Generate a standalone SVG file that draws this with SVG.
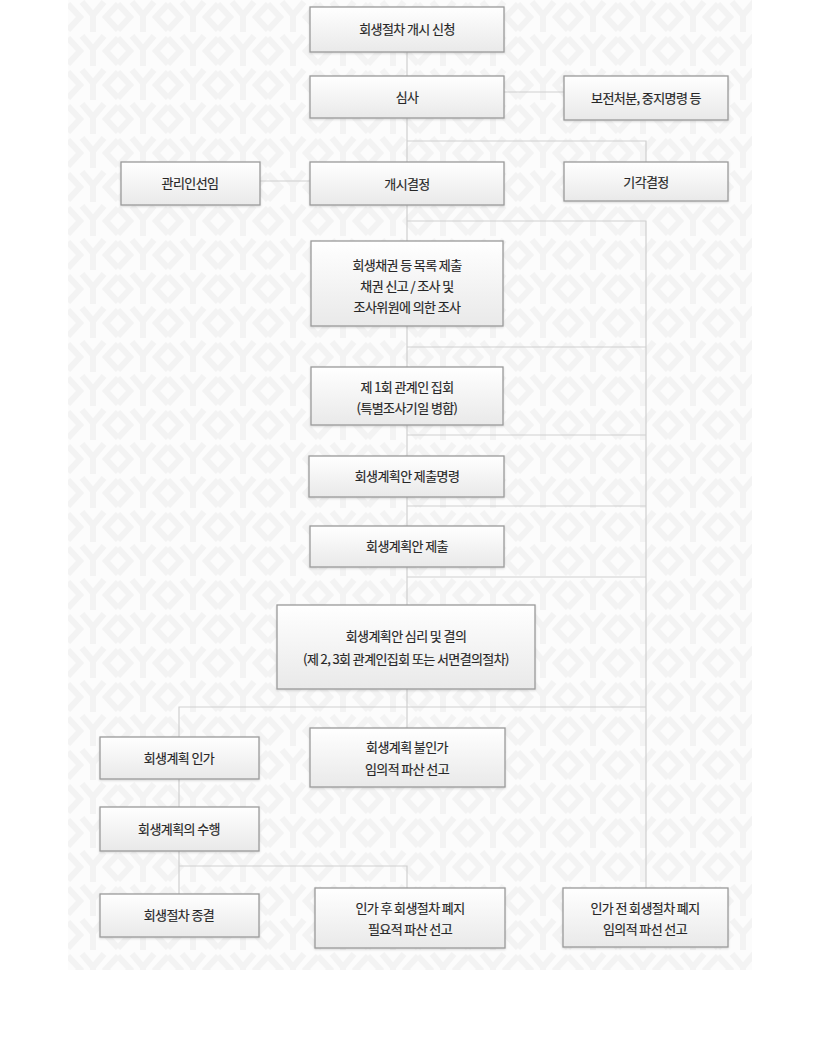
<svg xmlns="http://www.w3.org/2000/svg" width="830" height="1054" viewBox="0 0 830 1054">
<defs>
<linearGradient id="g" x1="0" y1="0" x2="0" y2="1">
<stop offset="0" stop-color="#ffffff"/>
<stop offset="1" stop-color="#e9e9e9"/>
</linearGradient>
<pattern id="bgp" x="68" y="0" width="50" height="34" patternUnits="userSpaceOnUse">
<rect width="50" height="34" fill="#fcfcfc"/>
<path d="M0 4 L12 17 L0 30 M50 4 L38 17 L50 30 M14 2 L25 15 L36 2 M25 15 L25 32" fill="none" stroke="#f3f3f3" stroke-width="6"/>
</pattern>
<filter id="sh" x="-5%" y="-5%" width="110%" height="120%">
<feDropShadow dx="0" dy="1" stdDeviation="0.8" flood-color="#000" flood-opacity="0.15"/>
</filter>
</defs>
<style>
.box{fill:url(#g);stroke:#9a9a9a;stroke-width:1.3;filter:url(#sh)}
.t{font-family:"Noto Sans CJK KR","Noto Sans",sans-serif;font-size:13px;fill:#262626;text-anchor:middle;letter-spacing:-0.6px;stroke:#262626;stroke-width:0.15}
.c{fill:none;stroke:#cfcfcf;stroke-width:1.2}
</style>
<rect x="0" y="0" width="830" height="1054" fill="#ffffff"/>
<rect x="68" y="0" width="684" height="970" fill="url(#bgp)"/>

<g id="connectors">
<path class="c" d="M407 52 V76"/>
<path class="c" d="M504 92 H564"/>
<path class="c" d="M407 118 V162"/>
<path class="c" d="M407 141 H646 V162"/>
<path class="c" d="M260 181 H310"/>
<path class="c" d="M407 205 V241"/>
<path class="c" d="M407 221 H646 V888"/>
<path class="c" d="M407 326 V367"/>
<path class="c" d="M407 347 H646"/>
<path class="c" d="M407 425 V456"/>
<path class="c" d="M407 435 H646"/>
<path class="c" d="M407 497 V526"/>
<path class="c" d="M407 506 H646"/>
<path class="c" d="M407 567 V605"/>
<path class="c" d="M407 577 H646"/>
<path class="c" d="M407 689 V728"/>
<path class="c" d="M179 737 V707 H646"/>
<path class="c" d="M179 779 V807"/>
<path class="c" d="M179 851 V894"/>
<path class="c" d="M179 866 H407 V888"/>
</g>

<g id="n1"><rect class="box" x="310" y="7" width="194" height="45"/><text class="t" x="407" y="34">회생절차 개시 신청</text></g>
<g id="n2"><rect class="box" x="310" y="76" width="194" height="42"/><text class="t" x="407" y="102">심사</text></g>
<g id="n3"><rect class="box" x="564" y="76" width="164" height="44"/><text class="t" x="646" y="103">보전처분, 중지명령 등</text></g>
<g id="n4"><rect class="box" x="121" y="162" width="139" height="43"/><text class="t" x="190" y="188">관리인선임</text></g>
<g id="n5"><rect class="box" x="310" y="162" width="194" height="43"/><text class="t" x="407" y="189">개시결정</text></g>
<g id="n6"><rect class="box" x="564" y="162" width="164" height="39"/><text class="t" x="646" y="187">기각결정</text></g>
<g id="n7"><rect class="box" x="311" y="241" width="192" height="85"/>
<text class="t" x="407" y="270">회생채권 등 목록 제출</text>
<text class="t" x="407" y="291">채권 신고 / 조사 및</text>
<text class="t" x="407" y="312">조사위원에 의한 조사</text></g>
<g id="n8"><rect class="box" x="311" y="367" width="192" height="58"/>
<text class="t" x="407" y="392">제 1회 관계인 집회</text>
<text class="t" x="407" y="413">(특별조사기일 병합)</text></g>
<g id="n9"><rect class="box" x="309" y="456" width="195" height="41"/><text class="t" x="407" y="481">회생계획안 제출명령</text></g>
<g id="n10"><rect class="box" x="310" y="526" width="194" height="41"/><text class="t" x="407" y="551">회생계획안 제출</text></g>
<g id="n11"><rect class="box" x="277" y="605" width="258" height="84"/>
<text class="t" x="406" y="641">회생계획안 심리 및 결의</text>
<text class="t" x="406" y="664">(제 2, 3회 관계인집회 또는 서면결의절차)</text></g>
<g id="n12"><rect class="box" x="100" y="737" width="159" height="42"/><text class="t" x="179" y="763">회생계획 인가</text></g>
<g id="n13"><rect class="box" x="310" y="728" width="195" height="59"/>
<text class="t" x="407" y="752">회생계획 불인가</text>
<text class="t" x="407" y="774">임의적 파산 선고</text></g>
<g id="n14"><rect class="box" x="100" y="807" width="159" height="44"/><text class="t" x="179" y="834">회생계획의 수행</text></g>
<g id="n15"><rect class="box" x="100" y="894" width="159" height="43"/><text class="t" x="179" y="920">회생절차 종결</text></g>
<g id="n16"><rect class="box" x="315" y="888" width="190" height="60"/>
<text class="t" x="410" y="913">인가 후 회생절차 폐지</text>
<text class="t" x="410" y="934">필요적 파산 선고</text></g>
<g id="n17"><rect class="box" x="563" y="888" width="165" height="59"/>
<text class="t" x="645" y="913">인가 전 회생절차 폐지</text>
<text class="t" x="645" y="934">임의적 파선 선고</text></g>
</svg>
